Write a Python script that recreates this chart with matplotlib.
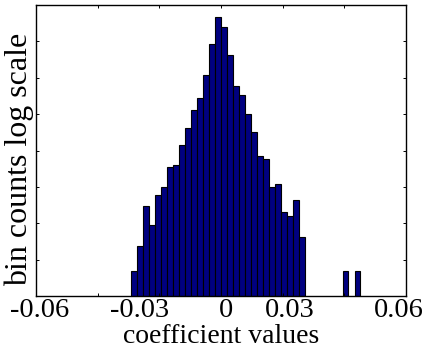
import numpy as np
import matplotlib
matplotlib.use('Agg')
import matplotlib.pyplot as plt

DPI = 100
plt.rcParams['font.family'] = ['Liberation Serif', 'DejaVu Serif']

# main histogram: left edge of first bin and bin width (coefficient units)
bin_start = -0.0292
bin_width = 0.00195
counts = [2, 4, 12, 7, 16, 20, 35, 37, 64, 102, 167, 233, 437, 1022, 2140,
          1636, 757, 324, 252, 150, 92, 47, 43, 20, 22, 10, 9, 14, 5]

# two isolated outlier bins
outlier_centers = [0.0405, 0.0444]
outlier_counts = [2, 2]

# tick labels as they appear under the axis
label_values = [-0.0587, -0.0263, 0.0016, 0.0224, 0.0577]
label_texts = ['-0.06', '-0.03', '0', '0.03', '0.06']
major_xticks = [-0.06, -0.04, -0.02, 0, 0.02, 0.04, 0.06]
yticks = [1, 2, 3, 4, 5, 6, 7]

fig = plt.figure(figsize=(429 / DPI, 350 / DPI), dpi=DPI)
ax = fig.add_axes([36 / 429, 54 / 350, 370 / 429, 291 / 350])

centers = bin_start + bin_width * (np.arange(len(counts)) + 0.5)
ax.bar(centers, np.log(counts), width=bin_width, color='#000080',
       edgecolor='black', linewidth=0.8)
ax.bar(outlier_centers, np.log(outlier_counts), width=bin_width * 0.85,
       color='#000080', edgecolor='black', linewidth=0.8)

ax.set_xlim(-0.06, 0.06)
ax.set_ylim(0, 8)

ax.set_xticks(major_xticks)
ax.set_xticklabels([])
ax.set_xticks(label_values, minor=True)
ax.set_xticklabels(label_texts, minor=True, fontsize=20.5)
ax.set_yticks(yticks)
ax.set_yticklabels([])

ax.tick_params(which='major', direction='in', length=2.5, width=0.7,
               top=True, right=True)
ax.tick_params(axis='x', which='minor', length=0, pad=1.5)

for s in ax.spines.values():
    s.set_linewidth(1.0)

ax.set_xlabel('coefficient values', fontsize=20)
ax.xaxis.set_label_coords(0.5, -0.095)
ax.set_ylabel('bin counts log scale', fontsize=23)
ax.yaxis.set_label_coords(-0.006, 0.47)

fig.savefig('out.png', dpi=DPI)
plt.close(fig)
